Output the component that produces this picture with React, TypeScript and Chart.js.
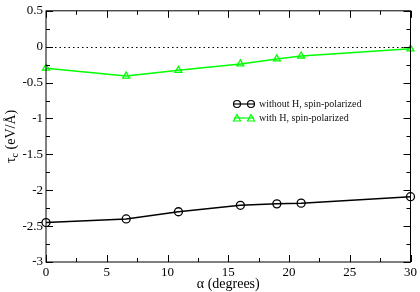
import React, { useEffect, useRef } from "react";
import { Chart, registerables } from "chart.js";

Chart.register(...registerables);

const alpha = [0, 6.6, 10.9, 16, 19, 21, 30];
const withoutH = [-2.45, -2.40, -2.30, -2.21, -2.19, -2.18, -2.09];
const withH = [-0.30, -0.41, -0.33, -0.24, -0.17, -0.13, -0.03];
const seriesLabels = ["without H, spin-polarized", "with H, spin-polarized"];
const xTitle = "α (degrees)";

const SERIF = "'Liberation Serif', 'DejaVu Serif', serif";
const BLACK = "#000000";
const GREEN = "#00ff00";
const NONE = "rgba(0,0,0,0)";

const framePlugin = {
  id: "frameTicks",
  beforeDatasetsDraw(chart: any) {
    const { ctx, chartArea, scales } = chart;
    const y0 = Math.round(scales.y.getPixelForValue(0)) + 0.5;
    ctx.save();
    ctx.strokeStyle = BLACK;
    ctx.lineWidth = 1;
    ctx.setLineDash([1.5, 3]);
    ctx.beginPath();
    ctx.moveTo(chartArea.left, y0);
    ctx.lineTo(chartArea.right, y0);
    ctx.stroke();
    ctx.restore();
  },
  afterDraw(chart: any) {
    const { ctx, chartArea, scales } = chart;
    const { left, right, top, bottom } = chartArea;
    ctx.save();
    ctx.strokeStyle = BLACK;
    ctx.lineWidth = 1;
    ctx.strokeRect(left, top, right - left, bottom - top);
    ctx.beginPath();
    for (let v = 0; v <= 30 + 1e-9; v += 2.5) {
      const px = Math.round(scales.x.getPixelForValue(v)) + 0.5;
      const len = Math.abs(v % 5) < 1e-9 ? 7 : 4;
      ctx.moveTo(px, bottom);
      ctx.lineTo(px, bottom - len);
      ctx.moveTo(px, top);
      ctx.lineTo(px, top + len);
    }
    for (let v = -3; v <= 0.5 + 1e-9; v += 0.25) {
      const py = Math.round(scales.y.getPixelForValue(v)) + 0.5;
      const len = Math.abs((v * 2) % 1) < 1e-9 ? 7 : 4;
      ctx.moveTo(left, py);
      ctx.lineTo(left + len, py);
      ctx.moveTo(right, py);
      ctx.lineTo(right - len, py);
    }
    ctx.stroke();

    // axis titles
    ctx.fillStyle = BLACK;
    ctx.textBaseline = "middle";
    ctx.textAlign = "center";
    ctx.font = `14px ${SERIF}`;
    ctx.fillText(xTitle, (left + right) / 2, 284);

    // y title with subscript
    ctx.save();
    ctx.translate(10, (top + bottom) / 2);
    ctx.rotate(-Math.PI / 2);
    ctx.textAlign = "left";
    ctx.textBaseline = "alphabetic";
    const big = `14px ${SERIF}`;
    const small = `10px ${SERIF}`;
    ctx.font = big;
    const wTau = ctx.measureText("τ").width;
    const wRest = ctx.measureText(" (eV/Å)").width;
    ctx.font = small;
    const wSub = ctx.measureText("c").width;
    const total = wTau + wSub + wRest;
    let x = -total / 2;
    const base = 5;
    ctx.font = big;
    ctx.fillText("τ", x, base);
    x += wTau;
    ctx.font = small;
    ctx.fillText("c", x, base + 3);
    x += wSub;
    ctx.font = big;
    ctx.fillText(" (eV/Å)", x, base);
    ctx.restore();

    // legend
    const items = [
      { label: seriesLabels[0], color: BLACK, style: "circle", y: 104 },
      { label: seriesLabels[1], color: GREEN, style: "triangle", y: 118 },
    ];
    ctx.font = `10px ${SERIF}`;
    ctx.textAlign = "left";
    ctx.textBaseline = "middle";
    for (const it of items) {
      ctx.strokeStyle = it.color;
      ctx.lineWidth = 1.2;
      ctx.beginPath();
      ctx.moveTo(234, it.y);
      ctx.lineTo(254, it.y);
      ctx.stroke();
      for (const cx of [237, 251]) {
        ctx.beginPath();
        if (it.style === "circle") {
          ctx.arc(cx, it.y, 3.5, 0, Math.PI * 2);
        } else {
          ctx.moveTo(cx, it.y - 3.5);
          ctx.lineTo(cx + 3.5, it.y + 3);
          ctx.lineTo(cx - 3.5, it.y + 3);
          ctx.closePath();
        }
        ctx.stroke();
      }
      ctx.fillStyle = "#111";
      ctx.fillText(it.label, 259, it.y + 0.5);
    }
    ctx.restore();
  },
};

export default function App() {
  const ref = useRef<HTMLCanvasElement>(null);
  useEffect(() => {
    if (!ref.current) return;
    const chart = new Chart(ref.current, {
      type: "line",
      data: {
        datasets: [
          {
            label: seriesLabels[0],
            data: alpha.map((a, i) => ({ x: a, y: withoutH[i] })),
            borderColor: BLACK,
            backgroundColor: NONE,
            borderWidth: 1.5,
            pointStyle: "circle",
            pointRadius: 4,
            pointBorderWidth: 1.3,
            pointBorderColor: BLACK,
            pointBackgroundColor: NONE,
            tension: 0,
          },
          {
            label: seriesLabels[1],
            data: alpha.map((a, i) => ({ x: a, y: withH[i] })),
            borderColor: GREEN,
            backgroundColor: NONE,
            borderWidth: 1.5,
            pointStyle: "triangle",
            pointRadius: 4,
            pointBorderWidth: 1.3,
            pointBorderColor: GREEN,
            pointBackgroundColor: NONE,
            tension: 0,
          },
        ],
      },
      options: {
        responsive: false,
        animation: false,
        clip: false as any,
        layout: { padding: { top: 5, right: 7, left: 0, bottom: 0 } },
        plugins: { legend: { display: false }, tooltip: { enabled: false } },
        scales: {
          x: {
            type: "linear",
            min: 0,
            max: 30,
            grid: { display: false, drawTicks: false },
            border: { display: false },
            ticks: {
              stepSize: 5,
              color: BLACK,
              padding: 3,
              maxRotation: 0,
              font: { family: SERIF, size: 13 },
              callback: (v: any) => String(v),
            },
            afterFit: (s: any) => {
              s.height = 30;
            },
          },
          y: {
            type: "linear",
            min: -3,
            max: 0.5,
            grid: { display: false, drawTicks: false },
            border: { display: false },
            ticks: {
              stepSize: 0.5,
              color: BLACK,
              padding: 3,
              font: { family: SERIF, size: 13 },
              callback: (v: any) => String(Math.round(Number(v) * 100) / 100),
            },
            afterFit: (s: any) => {
              s.width = 46;
            },
          },
        },
      },
      plugins: [framePlugin],
    });
    return () => chart.destroy();
  }, []);
  return (
    <div style={{ position: "absolute", left: 0, top: 0, width: 420, height: 292 }}>
      <canvas ref={ref} width={420} height={292} style={{ display: "block" }} />
    </div>
  );
}
